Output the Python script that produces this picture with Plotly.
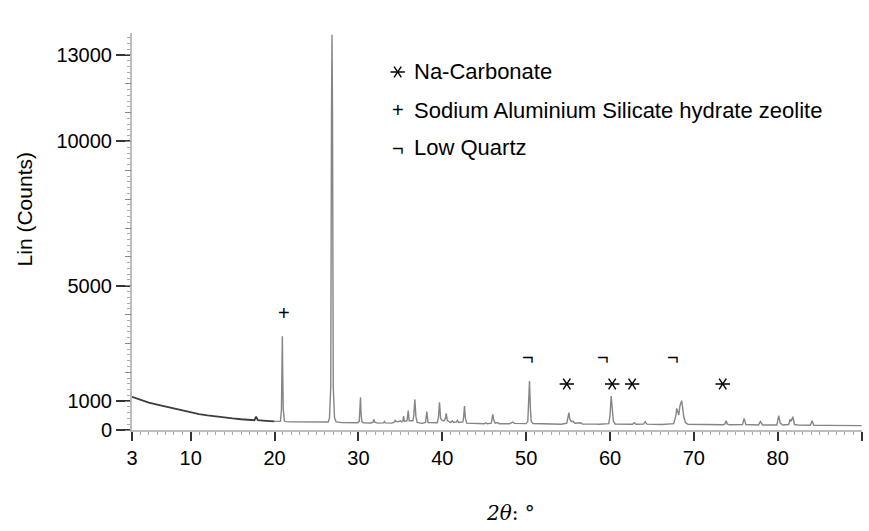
import plotly.graph_objects as go

# ---- data (2theta in degrees, intensity in counts) ----
scan_2theta = [
    3, 3.5, 4, 5, 6, 7, 8, 9, 10, 11, 12, 13, 14, 15, 16, 17, 17.6, 17.8, 18.0, 19, 20, 20.6,
    20.70, 20.82, 20.88, 20.93, 20.98, 21.04, 21.18, 21.4,
    22, 23, 24, 25, 26, 26.4,
    26.55, 26.70, 26.79, 26.85, 26.91, 27.0, 27.15, 27.35,
    28, 29, 29.9,
    30.1, 30.2, 30.25, 30.3, 30.4, 30.6,
    31.5, 31.75, 31.85, 31.95, 32.3,
    33.0, 33.1, 33.2,
    34.0, 34.3, 34.4, 34.5, 34.8, 35.0, 35.15,
    35.3, 35.38, 35.48, 35.8, 35.94, 36.05, 36.5, 36.6, 36.73, 36.85, 37.0, 37.6,
    38.0, 38.16, 38.3, 39.4, 39.55, 39.67, 39.8, 40.0, 40.2, 40.35, 40.47, 40.6, 41.0,
    41.2, 41.35, 41.7, 41.8, 41.95, 42.45, 42.55, 42.65, 42.75, 42.9, 44, 45, 45.2, 45.35,
    45.85, 45.95, 46.03, 46.12, 46.3, 46.6, 46.8, 48.0, 48.25, 48.41, 48.6, 49.5,
    50.0, 50.2, 50.3, 50.4, 50.5, 50.6, 50.8, 53.8, 54.0, 54.2,
    54.85, 55.0, 55.1, 55.2, 55.4, 55.6, 55.8, 56.5, 56.7, 58.3, 58.5, 58.7,
    59.85, 60.0, 60.14, 60.25, 60.4, 60.6, 62.7, 62.9, 63.1, 64.0, 64.2, 64.4,
    65.8, 66.0, 66.2, 67.6, 67.85, 67.96, 68.1, 68.2, 68.35, 68.45, 68.55, 68.65, 68.8,
    69.0, 69.3, 73.5, 73.7, 73.85, 74.0, 74.3, 75.8, 76.0, 76.2, 77.7, 77.94, 78.2,
    79.9, 80.12, 80.3, 80.6, 81.3, 81.48, 81.6, 81.8, 82.0, 82.5, 83.9, 84.1, 84.3,
    86, 88, 90,
]
scan_counts = [
    1150, 1100, 1040, 950, 880, 810, 745, 670, 600, 550, 505, 462, 430, 400, 372, 350, 340, 460, 338, 315, 298, 292,
    300, 700, 1800, 3250, 1800, 700, 310, 290,
    282, 275, 268, 262, 260, 275,
    420, 1500, 11000, 13700, 11000, 1500, 420, 280,
    255, 250, 250,
    300, 650, 1130, 650, 300, 250,
    245, 270, 370, 270, 240,
    245, 290, 245,
    240, 280, 345, 290, 290, 320, 280,
    320, 485, 300, 320, 670, 320, 320, 500, 1060, 480, 260, 230,
    260, 635, 260, 250, 450, 960, 400, 330, 320, 380, 580, 330, 260,
    320, 260, 280, 330, 260, 280, 450, 830, 430, 240, 220, 215, 250, 215,
    240, 380, 540, 360, 240, 260, 215, 215, 240, 277, 230, 215,
    220, 300, 800, 1700, 800, 300, 225, 200, 215, 200,
    240, 400, 600, 380, 290, 300, 235, 250, 210, 205, 215, 200,
    220, 500, 1180, 720, 300, 210, 200, 250, 200, 205, 290, 205,
    195, 215, 190, 220, 500, 750, 560, 520, 850, 950, 1015, 800, 450,
    260, 200, 180, 210, 320, 205, 180, 185, 405, 190, 175, 290, 175,
    175, 495, 240, 175, 190, 370, 300, 460, 190, 170, 165, 320, 165,
    160, 155, 150,
]

# phase markers
carbonate_2theta = [54.85, 60.26, 62.64, 73.44]
carbonate_counts = [1595, 1595, 1595, 1595]
zeolite_2theta = [21.08]
zeolite_counts = [4070]
quartz_2theta = [26.77, 50.2, 59.14, 67.48]
quartz_counts = [14410, 2530, 2530, 2530]

legend_labels = ["Na-Carbonate", "Sodium Aluminium Silicate hydrate zeolite", "Low Quartz"]
legend_key_2theta = 34.68
legend_key_counts = [12410, 11090, 9780]

x_ticks = [3, 10, 20, 30, 40, 50, 60, 70, 80, 90]
y_ticks = [0, 1000, 5000, 10000, 13000]
y_mid_ticks = list(range(0, 14000, 1000))

FONT = "Liberation Sans, Arial, sans-serif"
Y_MAX = 13760

fig = go.Figure()

n_lo = len([x for x in scan_2theta if x <= 20])
fig.add_trace(go.Scatter(x=scan_2theta[:n_lo], y=scan_counts[:n_lo], mode="lines",
                         line=dict(color="#3c3c3c", width=1.8), showlegend=False, hoverinfo="skip"))
fig.add_trace(go.Scatter(x=scan_2theta[n_lo - 1:], y=scan_counts[n_lo - 1:], mode="lines",
                         line=dict(color="#858585", width=1.4), showlegend=False, hoverinfo="skip"))

# six-armed asterisks (two three-armed markers overlaid)
star_x = carbonate_2theta + [legend_key_2theta]
star_y = carbonate_counts + [legend_key_counts[0]]
for sym in ["y-left-open", "y-right-open"]:
    fig.add_trace(go.Scatter(x=star_x, y=star_y, mode="markers", cliponaxis=False,
                             marker=dict(symbol=sym, size=9, color="black",
                                         line=dict(color="black", width=1.4)),
                             showlegend=False, hoverinfo="skip"))

# invisible trace to carry the medium-tick axis
fig.add_trace(go.Scatter(x=[None], y=[None], yaxis="y2", mode="lines", showlegend=False, hoverinfo="skip"))

ann = []
for x, y in zip(zeolite_2theta, zeolite_counts):
    ann.append(dict(x=x, y=y, xref="x", yref="y", text="+", showarrow=False,
                    font=dict(family=FONT, size=20, color="black")))
for x, y in zip(quartz_2theta, quartz_counts):
    ann.append(dict(x=x, y=y, xref="x", yref="y", text="¬", showarrow=False,
                    font=dict(family=FONT, size=20, color="black")))

ann.append(dict(x=legend_key_2theta, y=legend_key_counts[1], xref="x", yref="y", text="+",
                showarrow=False, font=dict(family=FONT, size=20, color="black")))
ann.append(dict(x=legend_key_2theta, y=legend_key_counts[2], xref="x", yref="y", text="¬",
                showarrow=False, font=dict(family=FONT, size=20, color="black")))
for lab, yy in zip(legend_labels, legend_key_counts):
    ann.append(dict(x=0.3836, y=yy / Y_MAX, xref="paper", yref="paper", text=lab, showarrow=False,
                    xanchor="left", yanchor="middle",
                    font=dict(family=FONT, size=22, color="black")))

ann.append(dict(x=-0.146, y=0.5567, xref="paper", yref="paper", text="Lin (Counts)",
                textangle=-90, showarrow=False, xanchor="center", yanchor="middle",
                font=dict(family=FONT, size=21, color="black")))
ann.append(dict(x=0.519, y=-0.209, xref="paper", yref="paper", text="<i>2θ</i>: °",
                showarrow=False, xanchor="center", yanchor="middle",
                font=dict(family="DejaVu Serif", size=20, color="black")))

fig.update_layout(
    width=869, height=531,
    margin=dict(l=132, r=7, t=33, b=101, autoexpand=False),
    paper_bgcolor="white", plot_bgcolor="white",
    showlegend=False,
    annotations=ann,
    xaxis=dict(range=[3, 90.05], tickvals=x_ticks, ticktext=[str(v) for v in x_ticks],
               showgrid=False, zeroline=False, showline=True, linecolor="#bdbdbd", linewidth=2,
               ticks="outside", ticklen=9, tickwidth=1.5, tickcolor="#333333",
               tickfont=dict(family=FONT, size=20, color="black"),
               minor=dict(dtick=1, tick0=0, ticks="outside", ticklen=3, tickwidth=1, tickcolor="#aaaaaa"),
               fixedrange=True),
    yaxis=dict(range=[0, Y_MAX], tickvals=y_ticks, ticktext=[str(v) for v in y_ticks],
               showgrid=False, zeroline=False, showline=True, linecolor="#bdbdbd", linewidth=2,
               ticks="outside", ticklen=14, tickwidth=1.5, tickcolor="#333333",
               tickfont=dict(family=FONT, size=20, color="black"),
               minor=dict(dtick=200, tick0=0, ticks="outside", ticklen=3, tickwidth=1, tickcolor="#aaaaaa"),
               fixedrange=True),
    yaxis2=dict(range=[0, Y_MAX], overlaying="y", side="left", anchor="x",
                tickvals=y_mid_ticks, showticklabels=False, showgrid=False, zeroline=False,
                showline=False, ticks="outside", ticklen=6, tickwidth=1, tickcolor="#888888",
                fixedrange=True),
)

fig.write_html("out.html")
